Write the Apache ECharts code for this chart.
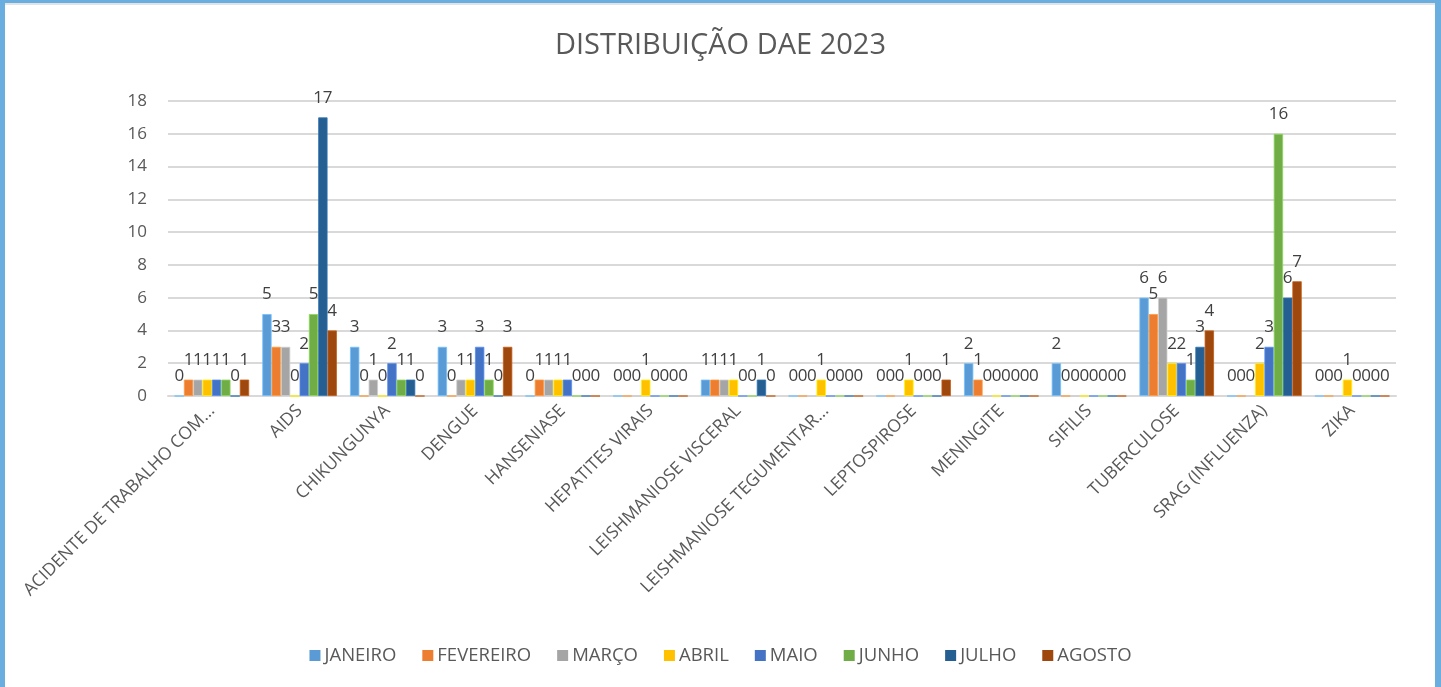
<!DOCTYPE html>
<html><head><meta charset="utf-8">
<script src="https://cdn.jsdelivr.net/npm/echarts@6/dist/echarts.min.js"></script>
<style>
html,body{margin:0;padding:0;background:#fff;}
#frame{position:absolute;left:0;top:0;width:1441px;height:687px;box-sizing:border-box;border-left:5px solid #6AAEDF;border-right:6px solid #6AAEDF;border-top:3px solid #6AAEDF;}
#frame:before{content:"";position:absolute;left:0;right:0;top:0;height:2px;background:#E3E3E3;}
#chart{position:absolute;left:0;top:0;width:1441px;height:687px;}
</style></head>
<body><div id="frame"></div><div id="chart"></div>
<script>
const categories = ["ACIDENTE DE TRABALHO COM...","AIDS","CHIKUNGUNYA","DENGUE","HANSENIASE","HEPATITES VIRAIS","LEISHMANIOSE VISCERAL","LEISHMANIOSE TEGUMENTAR...","LEPTOSPIROSE","MENINGITE","SIFILIS","TUBERCULOSE","SRAG (INFLUENZA)","ZIKA"];
const months = ["JANEIRO","FEVEREIRO","MARÇO","ABRIL","MAIO","JUNHO","JULHO","AGOSTO"];
const janeiro   = [0,5,3,3,0,0,1,0,0,2,2,6,0,0];
const fevereiro = [1,3,0,0,1,0,1,0,0,1,0,5,0,0];
const marco     = [1,3,1,1,1,0,1,0,0,0,0,6,0,0];
const abril     = [1,0,0,1,1,1,1,1,1,0,0,2,2,1];
const maio      = [1,2,2,3,1,0,0,0,0,0,0,2,3,0];
const junho     = [1,5,1,1,0,0,0,0,0,0,0,1,16,0];
const julho     = [0,17,1,0,0,0,1,0,0,0,0,3,6,0];
const agosto    = [1,4,0,3,0,0,0,0,1,0,0,4,7,0];
const yTicks = [0,2,4,6,8,10,12,14,16,18];
const colors = ["#5B9BD5","#ED7D31","#A5A5A5","#FFC000","#4472C4","#70AD47","#255E91","#9E480E"];
const seriesData = [janeiro,fevereiro,marco,abril,maio,junho,julho,agosto];
const font = "'Open Sans', sans-serif";
const chart = echarts.init(document.getElementById('chart'));
chart.setOption({
  animation:false,
  color: colors,
  title:{text:"DISTRIBUIÇÃO DAE 2023",left:'center',top:26,textStyle:{fontFamily:font,fontSize:29,fontWeight:'normal',color:'#595959'}},
  legend:{bottom:17,left:'center',itemWidth:11,itemHeight:11,itemGap:26,icon:'rect',
    itemStyle:{borderWidth:0},
    textStyle:{fontFamily:font,fontSize:18.5,color:'#595959',padding:[0,0,0,-1]},data:months},
  grid:{left:168,right:45,top:101,bottom:291,containLabel:false},
  xAxis:{type:'category',data:categories,axisLine:{show:true,lineStyle:{color:'#D9D9D9',width:2}},axisTick:{show:false},
    axisLabel:{interval:0,rotate:45,margin:12,fontFamily:font,fontSize:17.5,color:'#595959'}},
  yAxis:{type:'value',min:0,max:18,interval:2,axisLine:{show:false},axisTick:{show:false},
    splitLine:{lineStyle:{color:'#D9D9D9',width:2}},
    axisLabel:{margin:21,fontFamily:font,fontSize:17,color:'#595959',formatter:v=>yTicks.includes(v)?String(v):''}},
  series: seriesData.map((d,i)=>({
    name:months[i],type:'bar',data:d,barGap:'0%',barCategoryGap:'15%',
    itemStyle:{color:colors[i],borderColor:echarts.color.lift(colors[i],-0.25),borderWidth:0.8},
    label:{show:true,position:'top',distance:11,fontFamily:font,fontSize:17,color:'#404040'}
  }))
});
</script></body></html>
